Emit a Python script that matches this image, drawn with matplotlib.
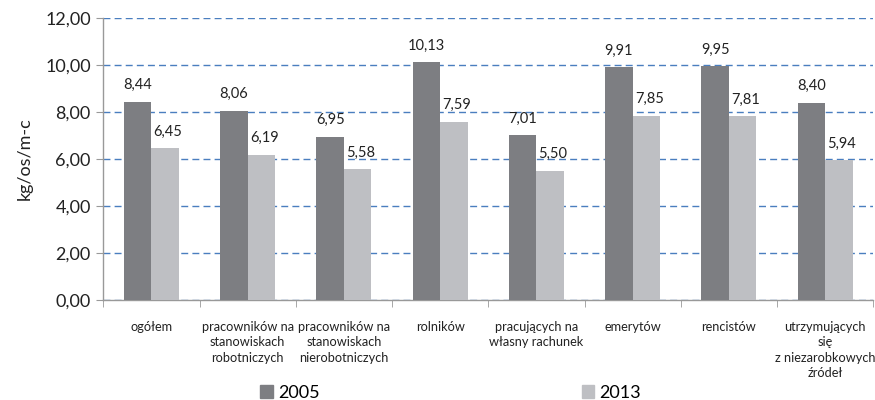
import matplotlib
matplotlib.use("Agg")
import matplotlib.pyplot as plt
import numpy as np
from matplotlib.patches import Patch

plt.rcParams['font.family'] = ['Lato', 'DejaVu Sans']

categories = ["ogółem",
              "pracowników na\nstanowiskach\nrobotniczych",
              "pracowników na\nstanowiskach\nnierobotniczych",
              "rolników",
              "pracujących na\nwłasny rachunek",
              "emerytów",
              "rencistów",
              "utrzymujących\nsię\nz niezarobkowych\nźródeł"]
v2005 = [8.44, 8.06, 6.95, 10.13, 7.01, 9.91, 9.95, 8.40]
v2013 = [6.45, 6.19, 5.58, 7.59, 5.50, 7.85, 7.81, 5.94]
series_names = ["2005", "2013"]
yticks = [0, 2, 4, 6, 8, 10, 12]

c_dark = "#7d7e82"
c_light = "#bebfc3"
grid_c = "#4a7ebf"

fig = plt.figure(figsize=(8.75, 4), dpi=100)
ax = fig.add_axes([0.118, 0.25, 0.880, 0.705])

x = np.arange(len(categories))
w = 0.285
ax.bar(x - w/2, v2005, w, color=c_dark, zorder=3)
ax.bar(x + w/2, v2013, w, color=c_light, zorder=3)

def fmt(v):
    return f"{v:.2f}".replace(".", ",")

for xi, v in zip(x - w/2, v2005):
    ax.text(xi, v + 0.4, fmt(v), ha='center', va='bottom', fontsize=10.5, color='#222222')
for xi, v in zip(x + w/2, v2013):
    ax.text(xi + 0.03, v + 0.4, fmt(v), ha='center', va='bottom', fontsize=10.5, color='#222222')

ax.set_xlim(-0.5, len(categories) - 0.5)
ax.set_ylim(0, 12)
ax.set_yticks(yticks)
ax.set_yticklabels([fmt(t) for t in yticks], fontsize=13, color='#222222')
ax.yaxis.grid(True, color=grid_c, linestyle=(0, (5, 3)), linewidth=1.0, zorder=0)
ax.set_axisbelow(True)

ax.set_xticks(x)
ax.set_xticklabels(categories, fontsize=9.2, color='#222222', linespacing=1.35, va='top')
ax.tick_params(axis='x', length=0, pad=15)
ax.set_xticks(np.arange(len(categories) + 1) - 0.5, minor=True)
ax.tick_params(axis='x', which='minor', length=5, color='#999999', direction='out')
ax.tick_params(axis='y', length=5, color='#999999', direction='out', pad=4)

for s in ['top', 'right']:
    ax.spines[s].set_visible(False)
for s in ['left', 'bottom']:
    ax.spines[s].set_color('#999999')
    ax.spines[s].set_linewidth(1.0)

ax.set_ylabel("kg/os/m-c", fontsize=13, color='#222222', labelpad=9)

handles = [Patch(color=c_dark), Patch(color=c_light)]
fig.legend(handles, series_names, loc='center', bbox_to_anchor=(0.515, 0.018),
           ncol=2, frameon=False, fontsize=13, handlelength=0.7, handleheight=0.7,
           handletextpad=0.3, columnspacing=14.5)

fig.savefig("out.png", dpi=100)
